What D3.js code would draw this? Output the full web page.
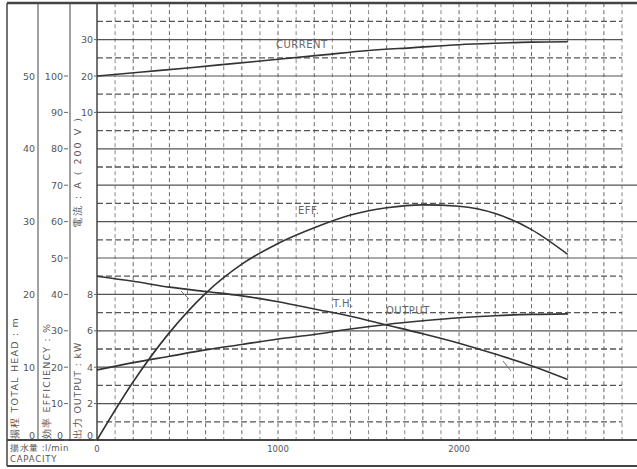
<!DOCTYPE html>
<html>
<head>
<meta charset="utf-8">
<script src="https://cdn.jsdelivr.net/npm/d3@7"></script>
<style>
  body { margin: 0; background: #fff; }
  text { font-family: "DejaVu Sans", sans-serif; fill: #555; }
</style>
</head>
<body>
<div id="chart"></div>
<script>
// capacity points (l/min)
var capacity = [0, 200, 400, 600, 800, 1000, 1200, 1400, 1600, 1800, 2000, 2200, 2400, 2600];
var efficiency = [0, 16, 29.5, 40.3, 48.3, 54, 58.3, 61.8, 63.8, 64.6, 64.2, 62.2, 57.8, 51];
var totalHead = [22.5, 21.8, 21.0, 20.4, 19.8, 19.0, 18.0, 17.0, 15.8, 14.6, 13.3, 11.8, 10.2, 8.3];
var outputKw = [3.85, 4.25, 4.6, 4.95, 5.25, 5.55, 5.8, 6.1, 6.35, 6.55, 6.72, 6.83, 6.9, 6.93];
var currentA = [20, 21.1, 22.2, 23.4, 24.6, 25.8, 27.0, 27.8, 28.6, 29.0, 29.3, 29.4];
var currentQ = [0, 250, 500, 750, 1000, 1250, 1500, 1750, 2000, 2200, 2400, 2600];

var xTicks = [0, 1000, 2000];
var headTicks = [0, 10, 20, 30, 40, 50];
var effTicks = [0, 10, 20, 30, 40, 50, 60, 70, 80, 90, 100];
var kwTicks = [0, 2, 4, 6, 8];
var ampTicks = [10, 20, 30];

var width = 637, height = 469;

var svg = d3.select("#chart").append("svg")
    .attr("width", width)
    .attr("height", height);

// scales
var x = d3.scaleLinear().domain([0, 2900]).range([97, 622]);
var yEff = d3.scaleLinear().domain([0, 120]).range([440, 3.2]);
var yHead = d3.scaleLinear().domain([0, 60]).range([440, 3.2]);
var yKw = d3.scaleLinear().domain([0, 24]).range([440, 3.2]);
var yAmp = d3.scaleLinear().domain([0, 40]).range([yEff(80), yEff(120)]);

// vertical grid, every 100 l/min
var vGrid = d3.range(100, 3000, 100);
svg.append("g").selectAll("line")
    .data(vGrid)
    .enter()
    .append("line")
    .attr("x1", d => x(d)).attr("x2", d => x(d))
    .attr("y1", yEff(120)).attr("y2", yEff(0))
    .attr("stroke", d => d % 200 == 0 ? "#666" : "#888")
    .attr("stroke-width", 1)
    .attr("stroke-dasharray", "4,3");

// horizontal grid: solid every 10 %, dashed in between
var solidRows = d3.range(10, 120, 10);
var dashRows = d3.range(5, 120, 10);
svg.append("g").selectAll("line")
    .data(solidRows)
    .enter()
    .append("line")
    .attr("x1", x(0)).attr("x2", d => d <= 70 ? 637 : 622)
    .attr("y1", d => yEff(d)).attr("y2", d => yEff(d))
    .attr("stroke", "#555")
    .attr("stroke-width", 1.2);
svg.append("g").selectAll("line")
    .data(dashRows)
    .enter()
    .append("line")
    .attr("x1", x(0)).attr("x2", 622)
    .attr("y1", d => yEff(d)).attr("y2", d => yEff(d))
    .attr("stroke", "#555")
    .attr("stroke-width", 1.3)
    .attr("stroke-dasharray", "6,3");

// frame
var frame = svg.append("g").attr("stroke", "#444").attr("fill", "none");
frame.append("line").attr("x1", 7).attr("x2", 637).attr("y1", 3).attr("y2", 3).attr("stroke-width", 2.5);
frame.append("line").attr("x1", 7).attr("x2", 7).attr("y1", 3).attr("y2", 466).attr("stroke-width", 1.5);
frame.append("line").attr("x1", 38).attr("x2", 38).attr("y1", 3).attr("y2", 440).attr("stroke-width", 1);
frame.append("line").attr("x1", 70).attr("x2", 70).attr("y1", 3).attr("y2", 440).attr("stroke-width", 1);
frame.append("line").attr("x1", x(0)).attr("x2", x(0)).attr("y1", 3).attr("y2", 440).attr("stroke-width", 1.5);
frame.append("line").attr("x1", 7).attr("x2", 637).attr("y1", 440).attr("y2", 440).attr("stroke-width", 1.8);
frame.append("line").attr("x1", 7).attr("x2", 637).attr("y1", 466).attr("y2", 466).attr("stroke-width", 1.8);

// left axes
function tickCol(vals, scale, xr, tickLen) {
    var g = svg.append("g");
    g.selectAll("text")
        .data(vals)
        .enter()
        .append("text")
        .attr("x", xr)
        .attr("y", d => scale(d) + (d == 0 ? -1 : 3.5))
        .attr("text-anchor", "end")
        .style("font-size", "9.5px")
        .text(d => d);
    if (tickLen > 0) {
        g.selectAll("line")
            .data(vals)
            .enter()
            .append("line")
            .attr("x1", xr + 1).attr("x2", xr + 1 + tickLen)
            .attr("y1", d => scale(d)).attr("y2", d => scale(d))
            .attr("stroke", "#666");
    }
}
tickCol(headTicks, yHead, 35, 0);
tickCol(effTicks, yEff, 63, 4);
tickCol(kwTicks, yKw, 93, 3);
tickCol(ampTicks, yAmp, 93, 3);

// axis titles (rotated)
function vTitle(txt, cx, yStart, spacing) {
    svg.append("text")
        .attr("transform", "translate(" + cx + "," + yStart + ") rotate(-90)")
        .attr("text-anchor", "start")
        .style("font-size", "9.5px")
        .style("letter-spacing", spacing + "px")
        .text(txt);
}
vTitle("揚程 TOTAL HEAD : m", 18, 439, 1.2);
vTitle("効率 EFFICIENCY : %", 50, 439, 1.2);
vTitle("出力 OUTPUT : kW", 81, 439, 0.8);
vTitle("電流 : A ( 200 V )", 81, 228, 2);

// x ticks
svg.append("g").selectAll("text")
    .data(xTicks)
    .enter()
    .append("text")
    .attr("x", d => x(d))
    .attr("y", 452)
    .attr("text-anchor", "middle")
    .style("font-size", "8.5px")
    .text(d => d);

svg.append("text").attr("x", 10).attr("y", 451).style("font-size", "8.5px")
    .style("letter-spacing", "0.5px").text("揚水量 :l/min");
svg.append("text").attr("x", 10).attr("y", 462).style("font-size", "8.5px")
    .style("letter-spacing", "0.8px").text("CAPACITY");

// curves
var line = d3.line().curve(d3.curveMonotoneX);
function drawCurve(qs, vals, scale) {
    svg.append("path")
        .attr("d", line(qs.map((q, i) => [x(q), scale(vals[i])])))
        .attr("fill", "none")
        .attr("stroke", "#333")
        .attr("stroke-width", 1.6);
}
drawCurve(currentQ, currentA, yAmp);
drawCurve(capacity, efficiency, yEff);
drawCurve(capacity, totalHead, yHead);
drawCurve(capacity, outputKw, yKw);

// curve labels
function label(txt, lx, ly) {
    svg.append("text")
        .attr("x", lx).attr("y", ly)
        .style("font-size", "10px")
        .style("letter-spacing", "0.5px")
        .style("fill", "#666")
        .text(txt);
}
label("CURRENT", 276, 48);
label("EFF.", 298, 214);
label("T.H.", 333, 307);
label("OUTPUT", 386, 314);

// small leader marks
svg.append("line").attr("x1", 181).attr("y1", 291).attr("x2", 189).attr("y2", 299)
    .attr("stroke", "#777").attr("stroke-width", 1);
svg.append("line").attr("x1", 503).attr("y1", 361).attr("x2", 511).attr("y2", 371)
    .attr("stroke", "#777").attr("stroke-width", 1);
</script>
</body>
</html>
